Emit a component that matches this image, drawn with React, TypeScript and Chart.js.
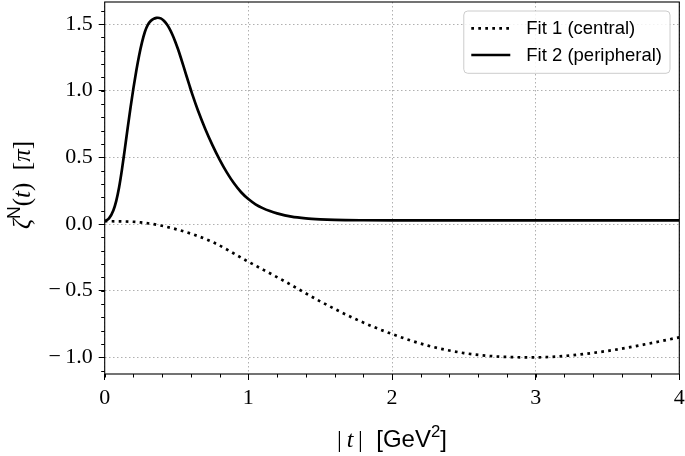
import { useEffect, useRef } from "react";
import { Chart, registerables } from "chart.js";

Chart.register(...registerables);

// ---------- data ----------
const fit1T = [0, 0.25, 0.5, 0.75, 1.0, 1.25, 1.5, 1.75, 2.0, 2.25, 2.5, 2.75, 3.0, 3.25, 3.5, 3.75, 4.0];
const fit1V = [0.022, 0.012, -0.04, -0.135, -0.283, -0.428, -0.58, -0.715, -0.825, -0.912, -0.968, -0.995, -1.0, -0.985, -0.952, -0.905, -0.85];

const fit2T = [0, 0.03, 0.06, 0.08, 0.1, 0.12, 0.14, 0.16, 0.18, 0.2, 0.22, 0.24, 0.26, 0.28, 0.3, 0.32, 0.34, 0.36, 0.37, 0.39, 0.41, 0.43, 0.45, 0.47, 0.49, 0.51, 0.53, 0.55, 0.57, 0.59, 0.61, 0.65, 0.7, 0.75, 0.8, 0.85, 0.9, 0.95, 1.0, 1.05, 1.1, 1.15, 1.2, 1.3, 1.4, 1.5, 1.6, 1.8, 2.0, 3.0, 4.0];
const fit2V = [0.02, 0.042, 0.102, 0.172, 0.274, 0.408, 0.562, 0.721, 0.875, 1.019, 1.15, 1.266, 1.364, 1.442, 1.494, 1.522, 1.538, 1.546, 1.547, 1.542, 1.527, 1.502, 1.467, 1.423, 1.371, 1.312, 1.247, 1.178, 1.108, 1.039, 0.972, 0.849, 0.713, 0.592, 0.483, 0.387, 0.305, 0.238, 0.187, 0.148, 0.119, 0.097, 0.08, 0.055, 0.042, 0.035, 0.031, 0.028, 0.027, 0.027, 0.027];

const seriesLabels = ["Fit 1 (central)", "Fit 2 (peripheral)"];
const xTickValues = [0, 1, 2, 3, 4];
const yTickValues = [-1.0, -0.5, 0.0, 0.5, 1.0, 1.5];
const xRange = [0, 4];
const yRange = [-1.125, 1.665];
const xMinorStep = 0.2;
const yMinorStep = 0.1;

const SERIF = "'Liberation Serif', 'DejaVu Serif', serif";
const SANS = "'Liberation Sans', 'DejaVu Sans', sans-serif";

type Part = { text: string; family: string; italic?: boolean; sup?: boolean };

const xTitleParts: Part[] = [
  { text: "|\u2009", family: SERIF },
  { text: "t", family: SERIF, italic: true },
  { text: "\u2009|", family: SERIF },
  { text: "  [GeV", family: SANS },
  { text: "2", family: SANS, sup: true },
  { text: "]", family: SANS },
];
const yTitleParts: Part[] = [
  { text: "ζ", family: SERIF, italic: true },
  { text: "N", family: SANS, sup: true },
  { text: "(", family: SERIF },
  { text: "t", family: SERIF, italic: true },
  { text: ")", family: SERIF },
  { text: "  [", family: SERIF },
  { text: "π", family: SERIF, italic: true },
  { text: "]", family: SERIF },
];

function drawRich(ctx: CanvasRenderingContext2D, parts: Part[], size: number) {
  const fontOf = (p: Part) => {
    const s = p.sup ? size * 0.7 : size;
    return `${p.italic ? "italic " : ""}${s}px ${p.family}`;
  };
  let total = 0;
  const widths = parts.map((p) => {
    ctx.font = fontOf(p);
    const w = ctx.measureText(p.text).width;
    total += w;
    return w;
  });
  let x = -total / 2;
  ctx.textBaseline = "alphabetic";
  ctx.textAlign = "left";
  parts.forEach((p, i) => {
    ctx.font = fontOf(p);
    ctx.fillText(p.text, x, p.sup ? -size * 0.42 : 0);
    x += widths[i];
  });
}

const extrasPlugin = {
  id: "extras",
  afterDatasetsDraw(chart: any) {
    const { ctx, chartArea } = chart;
    const xs = chart.scales.x;
    const ys = chart.scales.y;
    ctx.save();
    ctx.strokeStyle = "#000";
    ctx.lineWidth = 1;
    ctx.beginPath();
    const nx = Math.round((xs.max - xs.min) / xMinorStep);
    for (let i = 0; i <= nx; i++) {
      const v = xs.min + i * xMinorStep;
      const px = Math.round(xs.getPixelForValue(v)) + 0.5;
      ctx.moveTo(px, chartArea.bottom);
      ctx.lineTo(px, chartArea.bottom + 3.5);
    }
    const y0 = Math.ceil(ys.min / yMinorStep - 1e-9);
    const y1 = Math.floor(ys.max / yMinorStep + 1e-9);
    for (let k = y0; k <= y1; k++) {
      const py = Math.round(ys.getPixelForValue(k * yMinorStep)) + 0.5;
      ctx.moveTo(chartArea.left, py);
      ctx.lineTo(chartArea.left - 3.5, py);
    }
    ctx.stroke();
    ctx.lineWidth = 1.1;
    ctx.strokeRect(chartArea.left, chartArea.top, chartArea.right - chartArea.left, chartArea.bottom - chartArea.top);
    ctx.restore();
  },
  afterDraw(chart: any) {
    const { ctx, chartArea } = chart;
    ctx.save();
    ctx.fillStyle = "#000";
    ctx.save();
    ctx.translate((chartArea.left + chartArea.right) / 2, 447);
    drawRich(ctx, xTitleParts, 24);
    ctx.restore();
    ctx.save();
    ctx.translate(30, 185);
    ctx.rotate(-Math.PI / 2);
    drawRich(ctx, yTitleParts, 25);
    ctx.restore();

    // legend
    const fontSize = 18.5;
    ctx.font = `${fontSize}px ${SANS}`;
    const datasets = chart.data.datasets;
    const textW = Math.max(...datasets.map((d: any) => ctx.measureText(d.label).width));
    const padL = 7.5, lineLen = 39, gap = 16, padR = 8, rowH = 26.7, padT = 17.3, padB = 18.3;
    const w = padL + lineLen + gap + textW + padR;
    const h = padT + rowH * (datasets.length - 1) + padB;
    const bx = chartArea.right - 9.3 - w;
    const by = chartArea.top + 9;
    const r = 4;
    ctx.beginPath();
    ctx.moveTo(bx + r, by);
    ctx.arcTo(bx + w, by, bx + w, by + h, r);
    ctx.arcTo(bx + w, by + h, bx, by + h, r);
    ctx.arcTo(bx, by + h, bx, by, r);
    ctx.arcTo(bx, by, bx + w, by, r);
    ctx.closePath();
    ctx.fillStyle = "rgba(255,255,255,0.85)";
    ctx.fill();
    ctx.strokeStyle = "#cccccc";
    ctx.lineWidth = 1;
    ctx.stroke();
    datasets.forEach((d: any, i: number) => {
      const cy = by + padT + i * rowH;
      ctx.save();
      ctx.strokeStyle = d.borderColor;
      ctx.lineWidth = d.borderWidth;
      ctx.setLineDash(d.borderDash || []);
      ctx.lineCap = "butt";
      ctx.beginPath();
      ctx.moveTo(bx + padL, cy);
      ctx.lineTo(bx + padL + lineLen, cy);
      ctx.stroke();
      ctx.restore();
      ctx.fillStyle = "#000";
      ctx.textBaseline = "middle";
      ctx.textAlign = "left";
      ctx.font = `${fontSize}px ${SANS}`;
      ctx.fillText(d.label, bx + padL + lineLen + gap, cy + 1);
    });
    ctx.restore();
  },
};

const fmt = (v: number, digits: number) => {
  const s = Math.abs(v) < 1e-9 ? (0).toFixed(digits) : v.toFixed(digits);
  return s.replace("-", "\u2212\u2009");
};

export default function App() {
  const ref = useRef<HTMLCanvasElement | null>(null);
  useEffect(() => {
    if (!ref.current) return;
    const zeroPad = (scale: any) => {
      scale.paddingTop = 0;
      scale.paddingBottom = 0;
      scale.paddingLeft = 0;
      scale.paddingRight = 0;
    };
    const chart = new Chart(ref.current, {
      type: "line",
      data: {
        datasets: [
          {
            label: seriesLabels[0],
            data: fit1T.map((t, i) => ({ x: t, y: fit1V[i] })),
            borderColor: "#000",
            borderWidth: 2.7,
            borderDash: [2.7, 4.3],
            borderCapStyle: "butt",
            pointRadius: 0,
            fill: false,
            cubicInterpolationMode: "monotone",
          },
          {
            label: seriesLabels[1],
            data: fit2T.map((t, i) => ({ x: t, y: fit2V[i] })),
            borderColor: "#000",
            borderWidth: 2.7,
            pointRadius: 0,
            fill: false,
            cubicInterpolationMode: "monotone",
            borderJoinStyle: "round",
          },
        ],
      },
      options: {
        responsive: false,
        animation: false,
        devicePixelRatio: 1,
        layout: { padding: { top: 2, right: 5.7, left: 0, bottom: 0 }, autoPadding: false },
        plugins: { legend: { display: false }, tooltip: { enabled: false } },
        scales: {
          x: {
            type: "linear",
            min: xRange[0],
            max: xRange[1],
            afterBuildTicks: (s: any) => {
              s.ticks = xTickValues.map((v) => ({ value: v }));
            },
            afterFit: (s: any) => {
              s.height = 82;
              zeroPad(s);
            },
            ticks: {
              callback: (v: any) => fmt(Number(v), 0),
              color: "#000",
              font: { family: SERIF, size: 22 },
              padding: 5,
              maxRotation: 0,
              autoSkip: false,
            },
            grid: {
              color: "#b0b0b0",
              lineWidth: 1,
              tickLength: 6,
              tickColor: "#000",
              tickWidth: 1,
            },
            border: { display: false, dash: [1.5, 2.5] },
          },
          y: {
            type: "linear",
            min: yRange[0],
            max: yRange[1],
            afterBuildTicks: (s: any) => {
              s.ticks = yTickValues.map((v) => ({ value: v }));
            },
            afterFit: (s: any) => {
              s.width = 104.7;
              zeroPad(s);
            },
            ticks: {
              callback: (v: any) => fmt(Number(v), 1),
              color: "#000",
              font: { family: SERIF, size: 22 },
              padding: 6,
              autoSkip: false,
            },
            grid: {
              color: "#b0b0b0",
              lineWidth: 1,
              tickLength: 6,
              tickColor: "#000",
              tickWidth: 1,
            },
            border: { display: false, dash: [1.5, 2.5] },
          },
        },
      },
      plugins: [extrasPlugin],
    } as any);
    return () => chart.destroy();
  }, []);
  return (
    <div style={{ position: "absolute", left: 0, top: 0, width: 685, height: 456, background: "#fff" }}>
      <canvas ref={ref} width={685} height={456} style={{ display: "block" }} />
    </div>
  );
}
